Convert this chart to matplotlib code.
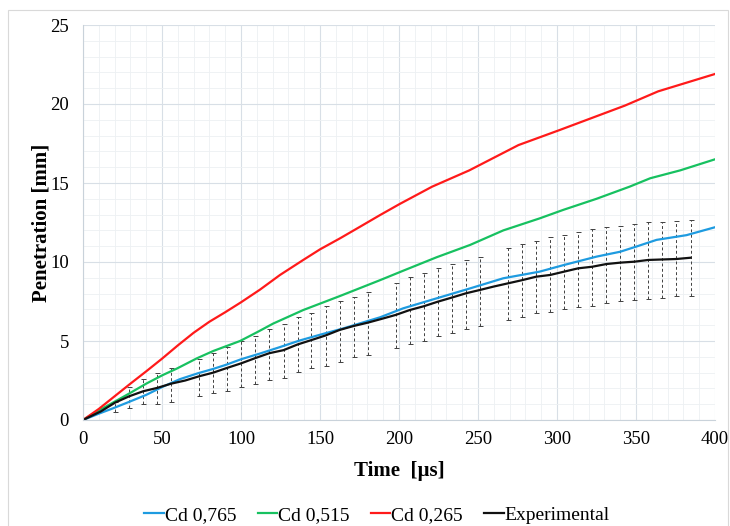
import matplotlib
matplotlib.use('Agg')
import matplotlib.pyplot as plt
from matplotlib.patches import Rectangle
from matplotlib.ticker import MultipleLocator

plt.rcParams['font.family'] = ['Liberation Serif', 'DejaVu Serif']

# Cd 0,765
t_blue = [0, 10.5, 19, 29.5, 40, 50.6, 61.2, 72.8, 82.3, 90.7, 100.2, 111.8, 124.5, 137.1, 149.8, 164.8, 188,
          202.7, 223.8, 245, 266, 289, 304, 325, 340, 350, 363, 382, 400]
p_blue = [0, 0.42, 0.74, 1.16, 1.59, 2.11, 2.58, 2.96, 3.23, 3.5, 3.85, 4.2, 4.61, 5.03, 5.39, 5.8, 6.5,
          7.07, 7.7, 8.33, 8.97, 9.39, 9.8, 10.34, 10.65, 10.97, 11.4, 11.7, 12.2]

# Cd 0,515
t_green = [0, 10, 29.5, 40, 50.6, 59.3, 72, 82.5, 99.4, 111, 120.3, 139.4, 162.7, 188,
           202.7, 223.8, 245, 266, 289, 304, 325, 346, 359, 378, 400]
p_green = [0, 0.6, 1.69, 2.3, 2.85, 3.25, 3.9, 4.37, 5.0, 5.6, 6.1, 6.96, 7.85, 8.85,
           9.45, 10.3, 11.08, 12.0, 12.76, 13.3, 14.0, 14.77, 15.3, 15.8, 16.5]

# Cd 0,265
t_red = [0, 10, 20, 30, 40, 50, 60, 70, 80, 90, 100, 112, 124.7, 139.4, 150, 162.7, 175.3, 188,
         200.4, 221, 244.5, 275.6, 301.6, 343, 364, 400]
p_red = [0, 0.7, 1.5, 2.3, 3.08, 3.88, 4.72, 5.52, 6.22, 6.82, 7.45, 8.25, 9.18, 10.13, 10.8, 11.5, 12.23, 12.97,
         13.67, 14.77, 15.8, 17.4, 18.35, 19.9, 20.8, 21.9]

# Experimental
t_exp = [0, 11.4, 20.3, 29.2, 38.1, 46.9, 55.8, 64.7, 73.6, 82.5, 91.3, 100.2, 109.1, 118.0, 126.9, 135.8,
         144.6, 153.5, 162.4, 171.3, 180.2, 189.0, 197.9, 206.8, 215.7, 224.6, 233.5, 242.4, 251.2, 260.1,
         269.0, 277.9, 286.8, 295.7, 304.5, 313.4, 322.3, 331.2, 340.1, 349.0, 357.8, 366.7, 375.6, 384.5]
p_exp = [0, 0.55, 1.1, 1.5, 1.82, 2.03, 2.3, 2.5, 2.77, 3.0, 3.3, 3.59, 3.92, 4.23, 4.42, 4.78,
         5.06, 5.35, 5.7, 5.95, 6.16, 6.4, 6.65, 6.96, 7.2, 7.49, 7.75, 8.02, 8.23, 8.45,
         8.65, 8.85, 9.07, 9.18, 9.39, 9.6, 9.7, 9.87, 9.96, 10.02, 10.13, 10.16, 10.19, 10.27]

# error bars (experimental scatter)
t_err = [20.3, 29.2, 38.1, 46.9, 55.8, 73.6, 82.5, 91.3, 100.2, 109.1, 118.0, 126.9, 135.8, 144.6, 153.5,
         162.4, 171.3, 180.2, 197.9, 206.8, 215.7, 224.6, 233.5, 242.4, 251.2, 269.0, 277.9, 286.8, 295.7,
         304.5, 313.4, 322.3, 331.2, 340.1, 349.0, 357.8, 366.7, 375.6, 384.5]
err_top = [1.16, 2.11, 2.57, 2.99, 3.27, 3.84, 4.22, 4.64, 5.02, 5.32, 5.74, 6.08, 6.5, 6.75, 7.22,
           7.55, 7.8, 8.12, 8.65, 9.07, 9.32, 9.6, 9.87, 10.13, 10.34, 10.87, 11.12, 11.35, 11.56,
           11.71, 11.88, 12.07, 12.23, 12.3, 12.4, 12.53, 12.55, 12.6, 12.64]
err_bot = [0.49, 0.78, 1.01, 1.01, 1.16, 1.54, 1.69, 1.86, 2.11, 2.28, 2.53, 2.64, 3.06, 3.27, 3.44,
           3.69, 3.97, 4.11, 4.54, 4.81, 5.02, 5.34, 5.53, 5.74, 5.97, 6.33, 6.5, 6.75, 6.82,
           7.0, 7.17, 7.22, 7.38, 7.53, 7.6, 7.66, 7.74, 7.85, 7.87]

fig = plt.figure(figsize=(7.3, 5.26), dpi=100)
ax = fig.add_axes([83/730, 1-420/526, 632/730, 395/526])

# chart area border
fig.patches.append(Rectangle((8/730, -0.1), 720/730, 1.1-10/526, transform=fig.transFigure,
                             fill=False, edgecolor='#D9D9D9', lw=0.8))

mid = [(a + b) / 2 for a, b in zip(err_top, err_bot)]
yerr = [[m - b for m, b in zip(mid, err_bot)], [t - m for t, m in zip(err_top, mid)]]
eb = ax.errorbar(t_err, mid, yerr=yerr, fmt='none', ecolor='#404040', elinewidth=0.7, capsize=1.8, capthick=0.7)
eb[2][0].set_linestyle((0, (3, 2.5)))

ax.plot(t_blue, p_blue, color='#1E9BE0', lw=1.6, label='Cd 0,765')
ax.plot(t_green, p_green, color='#17C160', lw=1.6, label='Cd 0,515')
ax.plot(t_red, p_red, color='#FF1A1A', lw=1.6, label='Cd 0,265')
ax.plot(t_exp, p_exp, color='#111111', lw=1.6, label='Experimental')

ax.set_xlim(0, 400)
ax.set_ylim(0, 25)
ax.xaxis.set_major_locator(MultipleLocator(50))
ax.yaxis.set_major_locator(MultipleLocator(5))
ax.xaxis.set_minor_locator(MultipleLocator(10))
ax.yaxis.set_minor_locator(MultipleLocator(1))
ax.grid(which='major', color='#D8DFE6', lw=0.8)
ax.grid(which='minor', color='#EDF0F3', lw=0.6)
ax.set_axisbelow(True)
for s in ['top', 'right']:
    ax.spines[s].set_visible(False)
for s in ['left', 'bottom']:
    ax.spines[s].set_color('#C9D2DA')
ax.tick_params(which='both', length=0, labelsize=13.5)
ax.tick_params(axis='y', pad=10)
ax.tick_params(axis='x', pad=8)

ax.set_xlabel('Time  [µs]', fontsize=15, fontweight='bold', labelpad=9)
ax.set_ylabel('Penetration [mm]', fontsize=15, fontweight='bold', labelpad=-1)

fig.legend(loc='center', bbox_to_anchor=(377/730, 1-515/526), ncol=4, frameon=False, fontsize=14,
           handlelength=1.0, handletextpad=0.05, columnspacing=1.1)

fig.savefig('out.png', dpi=100)
